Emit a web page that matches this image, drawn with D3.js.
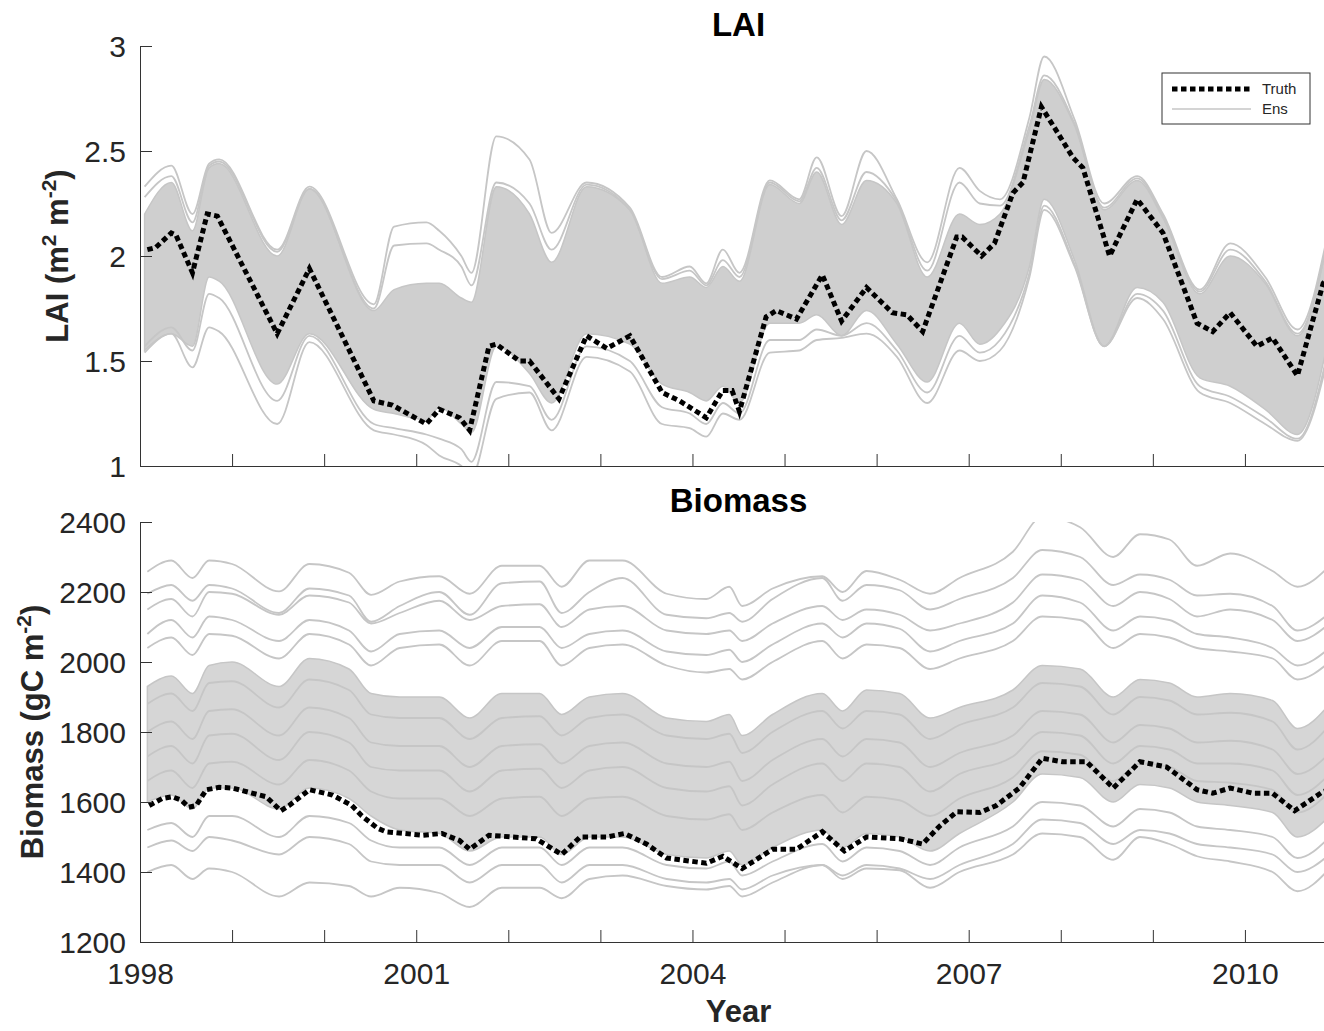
<!DOCTYPE html>
<html lang="en">
<head>
<meta charset="UTF-8">
<title>LAI and Biomass ensemble</title>
<script src="https://d3js.org/d3.v7.min.js"></script>
<style>
    body { margin: 0; background: #fff; }
    svg text { font-family: "Liberation Sans", Arial, Helvetica, sans-serif; fill: #262626; }
    .ens { fill: none; stroke: #c6c6c6; stroke-width: 1.8px; }
    .core { stroke: #c6c6c6; stroke-width: 1.5px; }
    .truth { fill: none; stroke: #000; stroke-width: 5px; stroke-dasharray: 5.5 3.5; }
</style>
</head>
<body>
<svg id="chart" width="1324" height="1031"></svg>
<script>
// ---- LAI panel ----
const laiTruthYears = [1998.08, 1998.17, 1998.34, 1998.39, 1998.57, 1998.73, 1998.84, 1999.49, 1999.84, 2000.54,
    2000.74, 2001.11, 2001.25, 2001.47, 2001.58, 2001.79, 2001.87, 2002.12, 2002.23, 2002.55,
    2002.85, 2003.07, 2003.32, 2003.67, 2003.86, 2004.15, 2004.33, 2004.43, 2004.51, 2004.80,
    2004.91, 2005.13, 2005.41, 2005.62, 2005.89, 2006.17, 2006.33, 2006.50, 2006.87, 2006.93,
    2007.14, 2007.28, 2007.48, 2007.59, 2007.79, 2007.99, 2008.13, 2008.24, 2008.53, 2008.83,
    2009.11, 2009.48, 2009.65, 2009.84, 2010.13, 2010.30, 2010.57, 2010.85, 2010.92];
const laiTruth = [2.03, 2.04, 2.11, 2.10, 1.92, 2.20, 2.19, 1.63, 1.94, 1.31,
    1.29, 1.20, 1.27, 1.23, 1.17, 1.57, 1.58, 1.50, 1.50, 1.32,
    1.62, 1.56, 1.62, 1.35, 1.31, 1.23, 1.36, 1.36, 1.26, 1.71,
    1.74, 1.70, 1.91, 1.69, 1.85, 1.73, 1.72, 1.64, 2.09, 2.09,
    2.00, 2.06, 2.30, 2.35, 2.71, 2.57, 2.47, 2.42, 2.00, 2.27,
    2.11, 1.68, 1.64, 1.73, 1.57, 1.61, 1.43, 1.87, 1.90];

// ensemble read at common knots
const laiEnsYears = [1998.05, 1998.34, 1998.57, 1998.75, 1998.86, 1999.49, 1999.84, 2000.54, 2000.76, 2001.11,
    2001.25, 2001.49, 2001.60, 2001.87, 2002.23, 2002.47, 2002.85, 2003.32, 2003.67, 2003.97,
    2004.15, 2004.33, 2004.51, 2004.84, 2005.16, 2005.35, 2005.62, 2005.89, 2006.22, 2006.55,
    2006.90, 2007.12, 2007.34, 2007.66, 2007.82, 2008.15, 2008.47, 2008.83, 2009.11, 2009.51,
    2009.84, 2010.22, 2010.57, 2010.92];
// dense part of the ensemble (upper / lower edge)
const laiCoreHi = [2.20, 2.35, 2.12, 2.42, 2.44, 2.00, 2.32, 1.74, 1.84, 1.87,
    1.87, 1.80, 1.78, 2.33, 2.20, 1.97, 2.33, 2.22, 1.87, 1.90,
    1.85, 1.95, 1.88, 2.34, 2.25, 2.40, 2.15, 2.36, 2.25, 1.90,
    2.20, 2.15, 2.20, 2.60, 2.84, 2.62, 2.22, 2.36, 2.18, 1.82,
    2.00, 1.87, 1.62, 2.12];
const laiCoreLo = [1.55, 1.63, 1.57, 1.90, 1.88, 1.39, 1.63, 1.27, 1.25, 1.22,
    1.28, 1.20, 1.16, 1.57, 1.44, 1.30, 1.63, 1.58, 1.39, 1.35,
    1.31, 1.38, 1.30, 1.68, 1.68, 1.72, 1.62, 1.74, 1.58, 1.40,
    1.68, 1.58, 1.65, 1.95, 2.27, 1.98, 1.57, 1.85, 1.78, 1.42,
    1.38, 1.27, 1.15, 1.63];
// members outside the dense part
const laiEnsA = [2.33, 2.43, 2.20, 2.44, 2.46, 2.03, 2.33, 1.77, 2.14, 2.16,
    2.12, 2.00, 1.92, 2.57, 2.46, 2.11, 2.35, 2.23, 1.90, 1.95,
    1.87, 2.03, 1.92, 2.36, 2.27, 2.47, 2.19, 2.50, 2.27, 1.97,
    2.42, 2.31, 2.27, 2.66, 2.95, 2.65, 2.25, 2.38, 2.20, 1.84,
    2.06, 1.90, 1.65, 2.15];
const laiEnsB = [2.28, 2.38, 2.16, 2.43, 2.45, 2.02, 2.32, 1.75, 2.05, 2.06,
    2.03, 1.95, 1.86, 2.35, 2.25, 2.03, 2.34, 2.22, 1.89, 1.93,
    1.86, 1.98, 1.90, 2.35, 2.26, 2.42, 2.17, 2.40, 2.26, 1.93,
    2.35, 2.25, 2.24, 2.62, 2.86, 2.63, 2.23, 2.37, 2.19, 1.83,
    2.03, 1.88, 1.63, 2.13];
const laiEnsC = [1.57, 1.66, 1.55, 1.82, 1.80, 1.31, 1.62, 1.20, 1.18, 1.15,
    1.13, 1.08, 1.02, 1.40, 1.38, 1.22, 1.57, 1.50, 1.28, 1.25,
    1.20, 1.30, 1.25, 1.60, 1.60, 1.65, 1.62, 1.68, 1.55, 1.35,
    1.62, 1.54, 1.60, 1.92, 2.24, 1.96, 1.57, 1.82, 1.74, 1.38,
    1.33, 1.23, 1.13, 1.58];
const laiEnsD = [1.54, 1.63, 1.47, 1.66, 1.64, 1.20, 1.59, 1.17, 1.15, 1.10,
    1.05, 1.00, 0.95, 1.32, 1.35, 1.17, 1.52, 1.45, 1.20, 1.18,
    1.14, 1.25, 1.22, 1.54, 1.55, 1.60, 1.61, 1.63, 1.52, 1.30,
    1.55, 1.50, 1.55, 1.90, 2.22, 1.95, 1.57, 1.80, 1.70, 1.35,
    1.30, 1.20, 1.12, 1.55];

// ---- Biomass panel ----
const bioTruthYears = [1998.10, 1998.24, 1998.35, 1998.45, 1998.53, 1998.61, 1998.72, 1998.86, 1999.00, 1999.37,
    1999.53, 1999.62, 1999.84, 2000.09, 2000.30, 2000.41, 2000.58, 2000.67, 2001.07, 2001.28,
    2001.47, 2001.58, 2001.79, 2002.30, 2002.58, 2002.78, 2003.07, 2003.26, 2003.50, 2003.72,
    2004.15, 2004.33, 2004.54, 2004.87, 2005.13, 2005.41, 2005.65, 2005.89, 2006.25, 2006.50,
    2006.68, 2006.87, 2007.12, 2007.30, 2007.55, 2007.80, 2008.02, 2008.28, 2008.57, 2008.86,
    2009.15, 2009.48, 2009.65, 2009.84, 2010.09, 2010.30, 2010.54, 2010.85, 2010.98];
const bioTruth = [1590, 1610, 1615, 1605, 1585, 1590, 1635, 1642, 1640, 1615,
    1575, 1590, 1635, 1620, 1590, 1560, 1525, 1515, 1505, 1510,
    1490, 1465, 1505, 1495, 1450, 1500, 1500, 1510, 1480, 1440,
    1425, 1445, 1410, 1465, 1465, 1515, 1460, 1500, 1495, 1480,
    1530, 1572, 1570, 1590, 1640, 1725, 1715, 1715, 1640, 1715,
    1700, 1635, 1625, 1640, 1625, 1625, 1575, 1630, 1640];

const bioEnsYears = [1998.08, 1998.34, 1998.57, 1998.75, 1999.00, 1999.51, 1999.84, 2000.27, 2000.51, 2000.82,
    2001.25, 2001.58, 2001.93, 2002.34, 2002.58, 2002.88, 2003.24, 2003.72, 2004.15, 2004.40,
    2004.54, 2004.87, 2005.41, 2005.63, 2005.89, 2006.25, 2006.58, 2006.90, 2007.48, 2007.80,
    2008.21, 2008.57, 2008.86, 2009.18, 2009.48, 2009.84, 2010.30, 2010.57, 2010.92];
const bioCoreHi = [1930, 1960, 1910, 1990, 2000, 1930, 2010, 1980, 1910, 1900,
    1900, 1840, 1910, 1910, 1850, 1900, 1910, 1840, 1830, 1850,
    1790, 1850, 1910, 1860, 1920, 1910, 1840, 1870, 1920, 1990,
    1980, 1900, 1950, 1940, 1900, 1910, 1890, 1810, 1880];
const bioCoreLo = [1600, 1620, 1580, 1640, 1640, 1580, 1640, 1610, 1560, 1520,
    1510, 1460, 1500, 1500, 1450, 1500, 1500, 1450, 1440, 1460,
    1420, 1470, 1520, 1470, 1510, 1500, 1460, 1510, 1600, 1680,
    1670, 1600, 1650, 1640, 1600, 1590, 1570, 1500, 1560];
const bioEns1 = [2258, 2290, 2240, 2290, 2280, 2202, 2280, 2255, 2192, 2230,
    2245, 2195, 2275, 2275, 2215, 2290, 2290, 2195, 2180, 2215,
    2160, 2210, 2245, 2200, 2260, 2235, 2195, 2240, 2315, 2415,
    2385, 2300, 2365, 2350, 2275, 2310, 2260, 2215, 2275];
const bioEns2 = [2195, 2220, 2175, 2220, 2210, 2140, 2210, 2190, 2115, 2160,
    2200, 2135, 2225, 2230, 2140, 2200, 2240, 2135, 2125, 2140,
    2115, 2180, 2240, 2175, 2220, 2205, 2150, 2180, 2240, 2320,
    2300, 2220, 2250, 2235, 2190, 2195, 2160, 2090, 2140];
const bioEns3 = [2150, 2180, 2130, 2200, 2195, 2135, 2190, 2170, 2110, 2140,
    2175, 2120, 2160, 2165, 2100, 2150, 2160, 2090, 2080, 2090,
    2060, 2110, 2160, 2120, 2150, 2135, 2090, 2110, 2170, 2250,
    2235, 2160, 2200, 2180, 2130, 2150, 2120, 2060, 2110];
const bioEns4 = [2080, 2120, 2070, 2130, 2120, 2060, 2120, 2090, 2030, 2080,
    2090, 2040, 2100, 2100, 2040, 2080, 2090, 2030, 2020, 2035,
    2000, 2050, 2110, 2070, 2110, 2095, 2030, 2060, 2110, 2190,
    2170, 2090, 2130, 2120, 2080, 2070, 2040, 1990, 2040];
const bioEns5 = [2040, 2070, 2020, 2080, 2075, 2010, 2080, 2050, 1990, 2040,
    2050, 1990, 2060, 2060, 1990, 2040, 2050, 1990, 1970, 1980,
    1950, 2000, 2060, 2010, 2050, 2040, 1980, 2010, 2060, 2130,
    2120, 2040, 2080, 2070, 2040, 2030, 2010, 1950, 2000];
const bioEns6 = [1880, 1910, 1860, 1940, 1945, 1870, 1950, 1920, 1850, 1840,
    1840, 1780, 1840, 1845, 1790, 1840, 1850, 1790, 1780, 1795,
    1740, 1800, 1860, 1810, 1860, 1850, 1780, 1820, 1870, 1940,
    1930, 1850, 1900, 1890, 1850, 1855, 1830, 1750, 1820];
const bioEns7 = [1800, 1830, 1780, 1860, 1865, 1790, 1870, 1840, 1770, 1760,
    1760, 1700, 1760, 1765, 1710, 1760, 1770, 1710, 1700, 1715,
    1660, 1720, 1780, 1730, 1780, 1770, 1700, 1740, 1790, 1860,
    1850, 1770, 1820, 1810, 1770, 1775, 1750, 1680, 1740];
const bioEns8 = [1730, 1760, 1710, 1790, 1795, 1720, 1800, 1770, 1700, 1690,
    1690, 1630, 1690, 1695, 1640, 1690, 1700, 1640, 1630, 1645,
    1590, 1650, 1710, 1660, 1710, 1700, 1630, 1680, 1730, 1800,
    1790, 1710, 1760, 1750, 1710, 1710, 1690, 1620, 1680];
const bioEns9 = [1660, 1690, 1640, 1710, 1715, 1650, 1720, 1690, 1630, 1610,
    1610, 1560, 1610, 1615, 1560, 1610, 1615, 1560, 1550, 1565,
    1520, 1570, 1620, 1570, 1615, 1605, 1560, 1610, 1670, 1745,
    1735, 1660, 1710, 1700, 1660, 1655, 1635, 1570, 1630];
const bioEns10 = [1520, 1540, 1500, 1560, 1560, 1500, 1560, 1540, 1490, 1470,
    1470, 1420, 1470, 1470, 1420, 1470, 1470, 1420, 1410, 1430,
    1390, 1430, 1480, 1430, 1470, 1460, 1420, 1470, 1530, 1600,
    1590, 1530, 1580, 1570, 1530, 1520, 1500, 1440, 1500];
const bioEns11 = [1470, 1490, 1460, 1500, 1490, 1450, 1500, 1480, 1430, 1420,
    1420, 1370, 1420, 1420, 1370, 1420, 1420, 1380, 1370, 1380,
    1350, 1390, 1420, 1390, 1420, 1410, 1380, 1420, 1480, 1550,
    1540, 1480, 1520, 1510, 1480, 1470, 1450, 1400, 1450];
const bioEns12 = [1400, 1420, 1380, 1410, 1400, 1330, 1370, 1360, 1330, 1355,
    1340, 1300, 1355, 1355, 1325, 1380, 1390, 1360, 1350, 1360,
    1330, 1370, 1420, 1380, 1410, 1405, 1355, 1400, 1450, 1510,
    1500, 1435, 1500, 1480, 1445, 1430, 1400, 1345, 1410];

const yearTicks = d3.range(1998, 2011);
const laiTicks = [1, 1.5, 2, 2.5, 3];
const bioTicks = [1200, 1400, 1600, 1800, 2000, 2200, 2400];

const svg = d3.select("#chart");
const x = d3.scaleLinear().domain([1998, 2011]).range([140, 1337]);
const midX = (140 + 1337) / 2;

const panels = [
    {
        id: "lai", title: "LAI", titleY: 36, top: 46, bottom: 466, domain: [1, 3], ticks: laiTicks,
        fmt: d => d3.format("~g")(d), labelX: 68, unit: "LAI (m", sup1: "2", mid: " m", sup2: "-2", showYears: false,
        truthYears: laiTruthYears, truth: laiTruth, coreFill: "#cfcfcf",
        ensYears: laiEnsYears, coreHi: laiCoreHi, coreLo: laiCoreLo,
        members: [laiEnsA, laiEnsB, laiEnsC, laiEnsD]
    },
    {
        id: "bio", title: "Biomass", titleY: 512, top: 522, bottom: 942, domain: [1200, 2400], ticks: bioTicks,
        fmt: d => d, labelX: 43, unit: "Biomass (gC m", sup1: null, mid: "", sup2: "-2", showYears: true,
        truthYears: bioTruthYears, truth: bioTruth, coreFill: "#d6d6d6",
        ensYears: bioEnsYears, coreHi: bioCoreHi, coreLo: bioCoreLo,
        members: [bioEns1, bioEns2, bioEns3, bioEns4, bioEns5, bioEns6, bioEns7, bioEns8,
            bioEns9, bioEns10, bioEns11, bioEns12]
    }
];

panels.forEach(p => {
    const y = d3.scaleLinear().domain(p.domain).range([p.bottom, p.top]);
    const g = svg.append("g");

    svg.append("clipPath").attr("id", "clip-" + p.id)
        .append("rect").attr("x", 140).attr("y", p.top)
        .attr("width", 1337 - 140).attr("height", p.bottom - p.top);

    const plot = g.append("g").attr("clip-path", `url(#clip-${p.id})`);

    // dense ensemble band
    const band = d3.area()
        .curve(d3.curveMonotoneX)
        .x((d, i) => x(p.ensYears[i]))
        .y0((d, i) => y(p.coreLo[i]))
        .y1((d, i) => y(p.coreHi[i]));
    plot.append("path").attr("class", "core").attr("fill", p.coreFill).attr("d", band(p.ensYears));

    const ensLine = d3.line()
        .curve(d3.curveMonotoneX)
        .x((d, i) => x(p.ensYears[i]))
        .y(d => y(d));
    p.members.forEach(m => {
        plot.append("path").attr("class", "ens").attr("d", ensLine(m));
    });

    const truthLine = d3.line()
        .x((d, i) => x(p.truthYears[i]))
        .y(d => y(d));
    plot.append("path").attr("class", "truth").attr("d", truthLine(p.truth));

    // axes
    const yAxis = d3.axisLeft(y).tickValues(p.ticks).tickFormat(p.fmt)
        .tickSizeInner(-12).tickSizeOuter(0).tickPadding(14);
    g.append("g").attr("transform", "translate(140,0)").call(yAxis)
        .attr("font-size", 30).attr("font-family", null).attr("color", "#333")
        .call(a => a.selectAll("text").attr("dy", "0.35em"));

    const xAxis = d3.axisBottom(x).tickValues(yearTicks)
        .tickFormat(d => (p.showYears && d % 3 === 0) ? d : "")
        .tickSizeInner(-12).tickSizeOuter(0).tickPadding(21);
    g.append("g").attr("transform", `translate(0,${p.bottom})`).call(xAxis)
        .attr("font-size", 30).attr("font-family", null).attr("color", "#333");

    g.append("text").attr("x", midX).attr("y", p.titleY)
        .attr("text-anchor", "middle").attr("font-weight", "bold").attr("font-size", 33)
        .style("fill", "#000").text(p.title);

    const lab = g.append("text")
        .attr("transform", `translate(${p.labelX},${(p.top + p.bottom) / 2}) rotate(-90)`)
        .attr("text-anchor", "middle").attr("font-weight", "bold").attr("font-size", 31);
    lab.append("tspan").text(p.unit);
    if (p.sup1) {
        lab.append("tspan").attr("dy", -12).attr("font-size", 21).text(p.sup1);
        lab.append("tspan").attr("dy", 12).text(p.mid);
    }
    lab.append("tspan").attr("dy", -12).attr("font-size", 21).text(p.sup2);
    lab.append("tspan").attr("dy", 12).text(")");
});

svg.append("text").attr("x", midX).attr("y", 1022)
    .attr("text-anchor", "middle").attr("font-weight", "bold").attr("font-size", 31)
    .text("Year");

// legend
const leg = svg.append("g");
leg.append("rect").attr("x", 1162).attr("y", 73).attr("width", 148).attr("height", 51)
    .attr("fill", "#fff").attr("stroke", "#333").attr("stroke-width", 1);
leg.append("line").attr("class", "truth").attr("x1", 1172).attr("x2", 1251).attr("y1", 89).attr("y2", 89);
leg.append("line").attr("x1", 1172).attr("x2", 1251).attr("y1", 109).attr("y2", 109)
    .attr("stroke", "#c6c6c6").attr("stroke-width", 1.5);
leg.append("text").attr("x", 1262).attr("y", 89).attr("dy", "0.35em").attr("font-size", 15).text("Truth");
leg.append("text").attr("x", 1262).attr("y", 109).attr("dy", "0.35em").attr("font-size", 15).text("Ens");
</script>
</body>
</html>
